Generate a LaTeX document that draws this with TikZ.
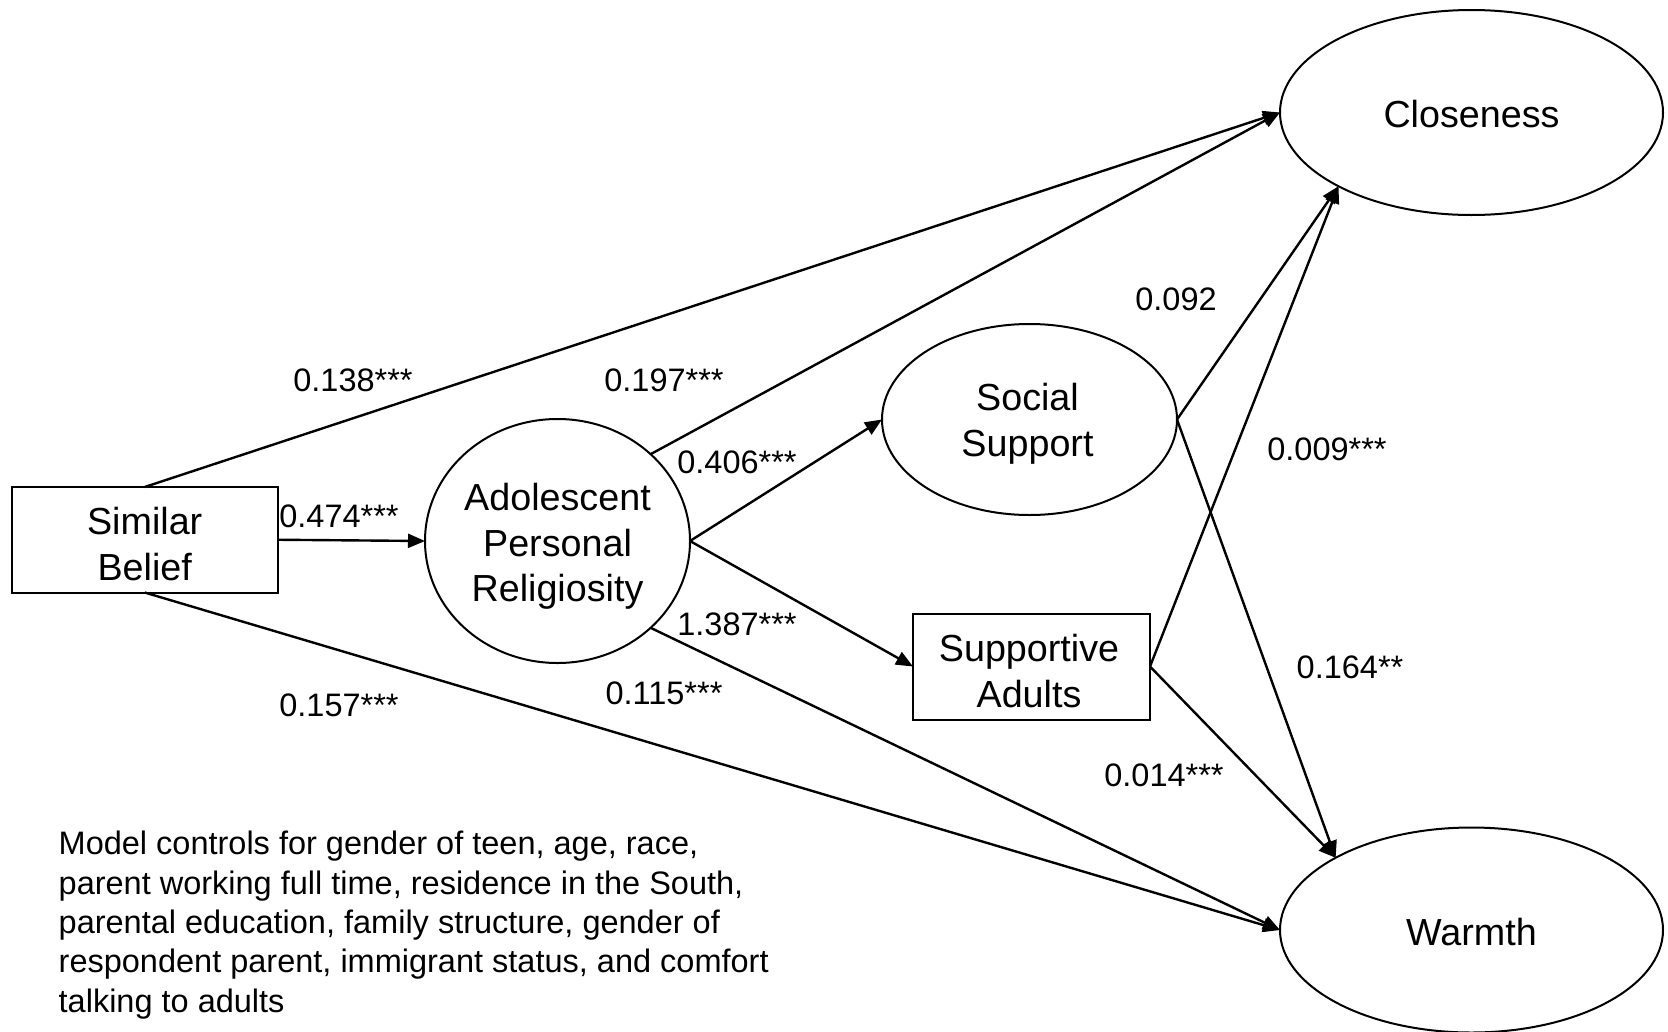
\documentclass[tikz,border=0pt]{standalone}
\usepackage{fontspec}
\setmainfont{Liberation Sans}
\usetikzlibrary{shapes.geometric,arrows.meta}
\begin{document}
\begin{tikzpicture}[x=1pt,y=-1pt,
  nodetext/.style={font=\fontsize{37.7}{45.5}\selectfont, align=center, inner sep=0pt, outer sep=0pt},
  rectbox/.style={draw, line width=2pt, rectangle, inner sep=0pt, outer sep=0pt},
  oval/.style={draw, line width=2pt, ellipse, inner sep=0pt, outer sep=0pt},
  link/.style={line width=2.4pt, -{Triangle[length=17pt,width=14pt]}},
  coef/.style={font=\fontsize{32.5}{39.4}\selectfont, inner sep=0pt}]
\useasboundingbox (0,0) rectangle (1668,1031);

% variables: outlines
\node[rectbox, minimum width=266pt, minimum height=105.5pt] (sim) at (144.7,539.75) {};
\node[oval, minimum width=265pt, minimum height=244pt] (rel) at (557.5,541) {};
\node[oval, minimum width=295pt, minimum height=191pt] (soc) at (1029.5,419.5) {};
\node[rectbox, minimum width=237pt, minimum height=106pt] (sup) at (1031.5,666.5) {};
\node[oval, minimum width=383pt, minimum height=205pt] (clo) at (1471.5,112.5) {};
\node[oval, minimum width=383pt, minimum height=205pt] (war) at (1471.5,930) {};

% variables: names
\node[nodetext] (simtxt) at (144.7,544) {Similar\\Belief};
\node[nodetext] (reltxt) at (557.5,546.5) {Adolescent\\Personal\\Religiosity};
\node[nodetext] (soctxt) at (1027.5,423.5) {Social\\Support};
\node[nodetext] (suptxt) at (1029,671) {Supportive\\Adults};
\node[nodetext] (clotxt) at (1471.5,114.5) {Closeness};
\node[nodetext] (wartxt) at (1471.5,932) {Warmth};

% paths
\draw[link] (sim.north) -- (clo.west);
\draw[link] (sim.east) -- (rel.west);
\draw[link] (sim.south) -- (war.west);
\draw[link] (rel.43) -- (clo.west);
\draw[link] (rel.east) -- (soc.west);
\draw[link] (rel.east) -- (sup.west);
\draw[link] (rel.-43) -- (war.west);
\draw[link] (soc.east) -- (clo.209);
\draw[link] (soc.east) -- (war.152);
\draw[link] (sup.east) -- (clo.209);
\draw[link] (sup.east) -- (war.152);

% coefficients
\node[coef] (c1) at (353,380) {0.138***};
\node[coef] (c2) at (339,516) {0.474***};
\node[coef] (c3) at (339,705) {0.157***};
\node[coef] (c4) at (664,380) {0.197***};
\node[coef] (c5) at (737,462) {0.406***};
\node[coef] (c6) at (737,624.5) {1.387***};
\node[coef] (c7) at (664,693.6) {0.115***};
\node[coef] (c8) at (1176,299) {0.092};
\node[coef] (c9) at (1327,449) {0.009***};
\node[coef] (c10) at (1350,667) {0.164**};
\node[coef] (c11) at (1164,775.5) {0.014***};

% note
\node[coef, align=left, anchor=north west] (note) at (58.5,831) {Model controls for gender of teen, age, race,\\
parent working full time, residence in the South,\\
parental education, family structure, gender of\\
respondent parent, immigrant status, and comfort\\
talking to adults};
\end{tikzpicture}
\end{document}
